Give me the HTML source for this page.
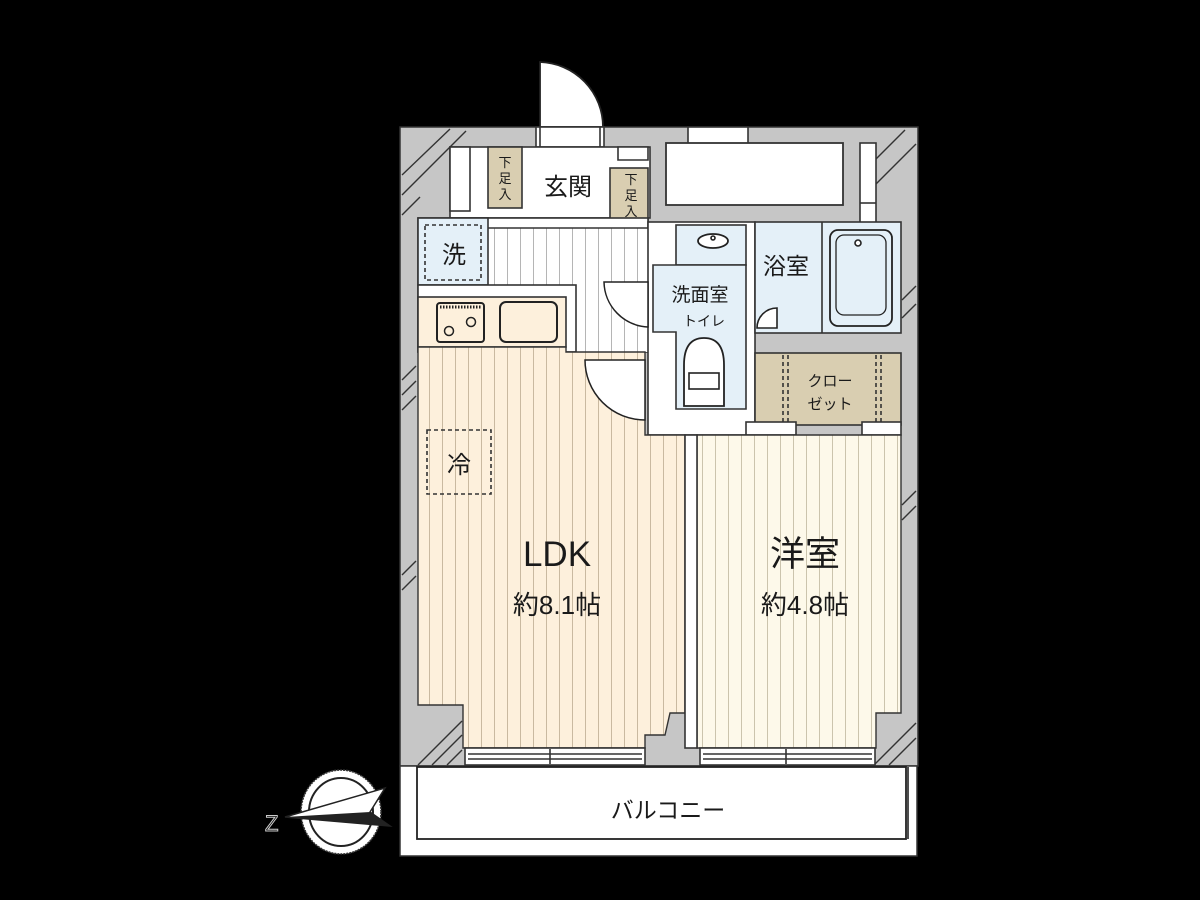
<!DOCTYPE html>
<html><head><meta charset="utf-8"><style>
html,body{margin:0;padding:0;background:#000;width:1200px;height:900px;overflow:hidden}
text{font-family:"Liberation Sans","Noto Sans CJK JP",sans-serif;fill:#1a1a1a}
</style></head><body>
<svg width="1200" height="900" viewBox="0 0 1200 900" xmlns="http://www.w3.org/2000/svg">
<defs>
<pattern id="ldk" width="13" height="20" patternUnits="userSpaceOnUse"><rect width="13" height="20" fill="#fdf0dc"/><line x1="0.5" y1="0" x2="0.5" y2="20" stroke="#c9b9a0" stroke-width="1"/></pattern>
<pattern id="yo" width="13" height="20" patternUnits="userSpaceOnUse"><rect width="13" height="20" fill="#fdf9ea"/><line x1="0.5" y1="0" x2="0.5" y2="20" stroke="#cbc4ad" stroke-width="1"/></pattern>
<pattern id="hall" width="13" height="20" patternUnits="userSpaceOnUse"><rect width="13" height="20" fill="#fff"/><line x1="0.5" y1="0" x2="0.5" y2="20" stroke="#b5b5b5" stroke-width="1"/></pattern>
</defs>
<g stroke-width="1.6">
<rect x="400" y="127" width="518" height="639" fill="#c6c6c6" stroke="#333" stroke-width="1.5"/>
<g stroke="#333" stroke-width="1.4">
<line x1="402" y1="175" x2="450" y2="129"/><line x1="402" y1="195" x2="466" y2="131"/><line x1="402" y1="215" x2="420" y2="197"/>
<line x1="860" y1="175" x2="905" y2="130"/><line x1="875" y1="185" x2="916" y2="144"/>
<line x1="902" y1="300" x2="916" y2="286"/><line x1="902" y1="318" x2="916" y2="304"/>
<line x1="402" y1="380" x2="416" y2="366"/><line x1="402" y1="395" x2="416" y2="381"/><line x1="402" y1="410" x2="416" y2="396"/>
<line x1="402" y1="575" x2="416" y2="561"/><line x1="402" y1="590" x2="416" y2="576"/>
<line x1="902" y1="505" x2="916" y2="491"/><line x1="902" y1="520" x2="916" y2="506"/>
<line x1="418" y1="765" x2="462" y2="721"/><line x1="432" y1="765" x2="462" y2="735"/><line x1="447" y1="765" x2="462" y2="750"/>
<line x1="874" y1="765" x2="916" y2="723"/><line x1="889" y1="765" x2="916" y2="738"/>
</g>
<path d="M540,127 L540,62 A65,65 0 0 1 603,127 Z" fill="#fff" stroke="#222" stroke-width="1.8"/>
<rect x="536" y="127" width="68" height="20" fill="#fff" stroke="#333"/>
<rect x="540" y="127" width="60" height="20" fill="#fff" stroke="#333"/>
<rect x="688" y="127" width="60" height="18" fill="#fff" stroke="#333"/>
<rect x="450" y="147" width="200" height="71" fill="#fff" stroke="#333"/>
<rect x="450" y="147" width="20" height="64" fill="#fff" stroke="#333"/>
<rect x="488" y="147" width="34" height="61" fill="#d9ceb1" stroke="#333"/>
<text x="505" y="167" font-size="13" text-anchor="middle">下</text>
<text x="505" y="183" font-size="13" text-anchor="middle">足</text>
<text x="505" y="199" font-size="13" text-anchor="middle">入</text>
<text x="568" y="195" font-size="24" text-anchor="middle">玄関</text>
<rect x="610" y="168" width="38" height="60" fill="#d9ceb1" stroke="#333"/>
<text x="631" y="184" font-size="13" text-anchor="middle">下</text>
<text x="631" y="200" font-size="13" text-anchor="middle">足</text>
<text x="631" y="216" font-size="13" text-anchor="middle">入</text>
<path d="M618,147 L648,147 L648,160 L618,160 Z" fill="#fff" stroke="#333"/>
<rect x="666" y="143" width="177" height="62" fill="#fff" stroke="#333" stroke-width="1.8"/>
<rect x="860" y="143" width="16" height="80" fill="#fff" stroke="#333"/>
<line x1="860" y1="203" x2="876" y2="203" stroke="#333"/>
<rect x="418" y="218" width="230" height="134" fill="#fff" stroke="#333"/>
<rect x="490" y="228" width="158" height="124" fill="url(#hall)"/>
<line x1="488" y1="228" x2="648" y2="228" stroke="#333"/>
<rect x="418" y="218" width="70" height="67" fill="#e4f0f8" stroke="#333"/>
<rect x="425" y="225" width="56" height="55" fill="none" stroke="#333" stroke-dasharray="4,3"/>
<text x="454" y="263" font-size="24" text-anchor="middle">洗</text>
<rect x="418" y="285" width="158" height="67" fill="#fff" stroke="#333"/>
<rect x="418" y="297" width="148" height="50" fill="#fdf0dc" stroke="#333"/>
<rect x="437" y="303" width="47" height="39" rx="3" fill="#fdf0dc" stroke="#222" stroke-width="2"/>
<line x1="440" y1="307" x2="481" y2="307" stroke="#222" stroke-width="3" stroke-dasharray="1.5,1.5"/>
<circle cx="449" cy="331" r="4.5" fill="none" stroke="#222" stroke-width="1.5"/>
<circle cx="471" cy="322" r="4.5" fill="none" stroke="#222" stroke-width="1.5"/>
<rect x="500" y="302" width="57" height="40" rx="6" fill="#fdf0dc" stroke="#222" stroke-width="2"/>
<rect x="648" y="222" width="107" height="213" fill="#fff" stroke="#333"/>
<rect x="676" y="225" width="70" height="40" fill="#e4f0f8" stroke="#333"/>
<ellipse cx="713" cy="241" rx="15" ry="7" fill="#fff" stroke="#222" stroke-width="1.8"/>
<circle cx="713" cy="238" r="2" fill="#fff" stroke="#222"/>
<path d="M653,265 L746,265 L746,409 L676,409 L676,332 L653,332 Z" fill="#e4f0f8" stroke="#333"/>
<text x="700" y="301" font-size="19" text-anchor="middle">洗面室</text>
<text x="704" y="326" font-size="14" text-anchor="middle">トイレ</text>
<path d="M684,406 L684,365 Q684,338 704,338 Q724,338 724,365 L724,406 Z" fill="#fff" stroke="#222" stroke-width="1.8"/>
<rect x="689" y="373" width="30" height="16" fill="#fff" stroke="#222"/>
<path d="M604,282 A46,46 0 0 0 648,327 L648,282 Z" fill="#fff" stroke="#222" stroke-width="1.5"/>
<rect x="755" y="222" width="146" height="111" fill="#e4f0f8" stroke="#333"/>
<line x1="822" y1="222" x2="822" y2="333" stroke="#333"/>
<text x="786" y="274" font-size="23" text-anchor="middle">浴室</text>
<rect x="830" y="230" width="62" height="96" rx="8" fill="#e4f0f8" stroke="#222" stroke-width="1.8"/>
<rect x="836" y="235" width="50" height="80" rx="8" fill="#e4f0f8" stroke="#222" stroke-width="1.3"/>
<circle cx="858" cy="243" r="3" fill="#fff" stroke="#222"/>
<path d="M757,328 A20,20 0 0 1 777,308 L777,328 Z" fill="#fff" stroke="#222"/>
<rect x="755" y="353" width="146" height="72" fill="#d9ceb1" stroke="#333"/>
<line x1="783" y1="355" x2="783" y2="423" stroke="#333" stroke-dasharray="4,3"/>
<line x1="788" y1="355" x2="788" y2="423" stroke="#333" stroke-dasharray="4,3"/>
<line x1="876" y1="355" x2="876" y2="423" stroke="#333" stroke-dasharray="4,3"/>
<line x1="881" y1="355" x2="881" y2="423" stroke="#333" stroke-dasharray="4,3"/>
<text x="830" y="386" font-size="15" text-anchor="middle">クロー</text>
<text x="830" y="409" font-size="15" text-anchor="middle">ゼット</text>
<rect x="746" y="422" width="50" height="13" fill="#fff" stroke="#333"/>
<rect x="862" y="422" width="39" height="13" fill="#fff" stroke="#333"/>
<path d="M418,347 L566,347 L566,352 L645,352 L645,435 L685,435 L685,713 L670,713 L665,735 L645,735 L645,748 L463,748 L463,705 L418,705 Z" fill="url(#ldk)" stroke="#333" stroke-width="1.4"/>
<path d="M585,360 A60,60 0 0 0 645,420 L645,360 Z" fill="#fff" stroke="#222" stroke-width="1.5"/>
<rect x="427" y="430" width="64" height="64" fill="none" stroke="#333" stroke-dasharray="4,3"/>
<text x="459" y="473" font-size="24" text-anchor="middle">冷</text>
<text x="557" y="566" font-size="35" text-anchor="middle">LDK</text>
<text x="557" y="614" font-size="26" text-anchor="middle">約8.1帖</text>
<path d="M697,435 L901,435 L901,713 L876,713 L876,748 L697,748 Z" fill="url(#yo)" stroke="#333" stroke-width="1.4"/>
<rect x="685" y="435" width="12" height="313" fill="#fff" stroke="#333"/>
<text x="805" y="566" font-size="35" text-anchor="middle">洋室</text>
<text x="805" y="614" font-size="26" text-anchor="middle">約4.8帖</text>
<rect x="465" y="748" width="180" height="17" fill="#fff" stroke="#333"/>
<line x1="468" y1="754" x2="642" y2="754" stroke="#333"/><line x1="468" y1="759" x2="642" y2="759" stroke="#333"/>
<line x1="550" y1="749" x2="550" y2="764" stroke="#333"/>
<rect x="700" y="748" width="175" height="17" fill="#fff" stroke="#333"/>
<line x1="703" y1="754" x2="872" y2="754" stroke="#333"/><line x1="703" y1="759" x2="872" y2="759" stroke="#333"/>
<line x1="786" y1="749" x2="786" y2="764" stroke="#333"/>
<rect x="400" y="766" width="517" height="90" fill="#fff" stroke="#333" stroke-width="1.5"/>
<rect x="417" y="767" width="489" height="72" fill="#fff" stroke="#222" stroke-width="1.8"/>
<line x1="908" y1="767" x2="908" y2="839" stroke="#222"/>
<text x="668" y="818" font-size="23" text-anchor="middle">バルコニー</text>
<ellipse cx="341" cy="812" rx="40" ry="42" fill="#fff" stroke="#333" stroke-dasharray="2,1"/>
<ellipse cx="341" cy="812" rx="32" ry="34" fill="#fff" stroke="#222" stroke-width="2"/>
<path d="M285,817 L385,788 L370,812 L390,826 Z" fill="#fff" stroke="#222" stroke-width="1.5"/>
<path d="M285,817 L370,812 L390,826 Z" fill="#222"/>
<text x="265" y="831" font-size="22" style="fill:#000;stroke:#ccc;stroke-width:1">Z</text>
</g>
</svg>
</body></html>
